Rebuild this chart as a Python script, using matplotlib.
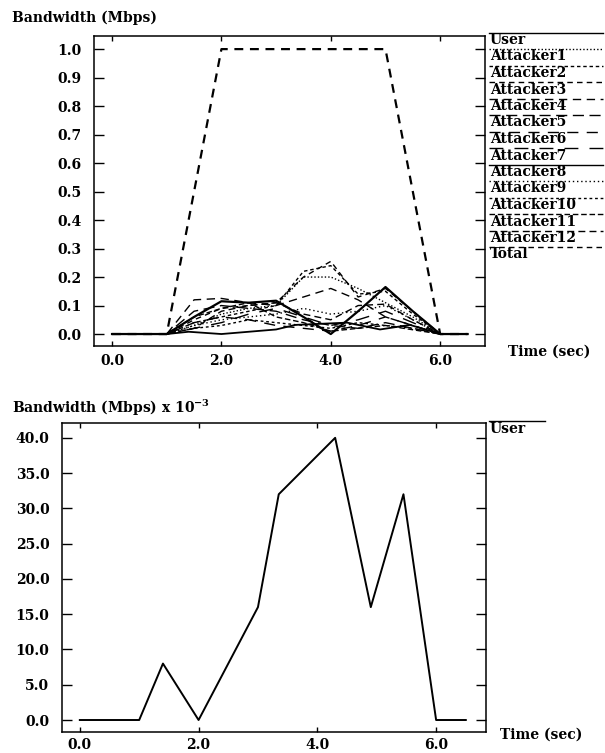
import matplotlib
matplotlib.use("Agg")
import matplotlib.pyplot as plt
from matplotlib.lines import Line2D

# ---------------- data ----------------
time = [0.0, 0.5, 1.0, 1.5, 2.0, 2.5, 3.0, 3.5, 4.0, 4.5, 5.0, 5.5, 6.0, 6.5]

attacker1 = [0, 0, 0, 0.03, 0.07, 0.09, 0.10, 0.20, 0.20, 0.16, 0.11, 0.06, 0, 0]
attacker2 = [0, 0, 0, 0.04, 0.06, 0.08, 0.10, 0.22, 0.24, 0.14, 0.15, 0.07, 0, 0]
attacker3 = [0, 0, 0, 0.05, 0.09, 0.10, 0.11, 0.20, 0.255, 0.13, 0.16, 0.08, 0, 0]
attacker4 = [0, 0, 0, 0.12, 0.125, 0.11, 0.10, 0.13, 0.16, 0.12, 0.06, 0.03, 0, 0]
attacker5 = [0, 0, 0, 0.08, 0.10, 0.09, 0.08, 0.05, 0.03, 0.02, 0.04, 0.02, 0, 0]
attacker6 = [0, 0, 0, 0.04, 0.06, 0.05, 0.03, 0.02, 0.01, 0.03, 0.06, 0.03, 0, 0]
attacker7 = [0, 0, 0, 0.02, 0.04, 0.07, 0.09, 0.06, 0.03, 0.05, 0.08, 0.04, 0, 0]
attacker8 = [0, 0, 0, 0.06, 0.115, 0.11, 0.117, 0.06, 0.0, 0.08, 0.165, 0.08, 0, 0]
attacker9 = [0, 0, 0, 0.03, 0.05, 0.06, 0.07, 0.09, 0.07, 0.08, 0.10, 0.05, 0, 0]
attacker10 = [0, 0, 0, 0.02, 0.03, 0.05, 0.04, 0.03, 0.02, 0.04, 0.03, 0.02, 0, 0]
attacker11 = [0, 0, 0, 0.06, 0.09, 0.11, 0.06, 0.04, 0.01, 0.02, 0.03, 0.015, 0, 0]
attacker12 = [0, 0, 0, 0.02, 0.08, 0.10, 0.11, 0.07, 0.05, 0.10, 0.105, 0.05, 0, 0]
total = [0, 0, 0, 0.5, 1.0, 1.0, 1.0, 1.0, 1.0, 1.0, 1.0, 0.5, 0, 0]

# user flow (sampled at its own times), in Mbps x 10^-3
user_time = [0.0, 1.0, 1.4, 2.0, 3.0, 3.35, 4.3, 4.9, 5.45, 6.0, 6.5]
user_kbps = [0, 0, 8, 0, 16, 32, 40, 16, 32, 0, 0]
user_mbps = [v / 1000.0 for v in user_kbps]

attacker_names = ["Attacker1", "Attacker2", "Attacker3", "Attacker4",
                  "Attacker5", "Attacker6", "Attacker7", "Attacker8",
                  "Attacker9", "Attacker10", "Attacker11", "Attacker12"]
attacker_values = [attacker1, attacker2, attacker3, attacker4, attacker5,
                   attacker6, attacker7, attacker8, attacker9, attacker10,
                   attacker11, attacker12]

top_yticks = [0.0, 0.1, 0.2, 0.3, 0.4, 0.5, 0.6, 0.7, 0.8, 0.9, 1.0]
bot_yticks = [0.0, 5.0, 10.0, 15.0, 20.0, 25.0, 30.0, 35.0, 40.0]
xticks = [0.0, 2.0, 4.0, 6.0]

# ---------------- styles ----------------
user_style = dict(ls="-", lw=1.3)
attacker_styles = [
    dict(ls=(0, (1, 1.5)), lw=1.0),
    dict(ls=(0, (2.5, 2)), lw=1.0),
    dict(ls=(0, (4, 3)), lw=1.0),
    dict(ls=(0, (6, 4)), lw=1.0),
    dict(ls=(0, (8, 4)), lw=1.0),
    dict(ls=(0, (8, 6)), lw=1.0),
    dict(ls=(0, (10, 8)), lw=1.0),
    dict(ls="-", lw=1.6),
    dict(ls=(0, (1, 2)), lw=1.0),
    dict(ls=(0, (2, 2)), lw=1.0),
    dict(ls=(0, (4, 2)), lw=1.0),
    dict(ls=(0, (5, 3)), lw=1.0),
]
total_style = dict(ls=(0, (4, 3)), lw=1.6)

FONT = "DejaVu Serif"
plt.rcParams["font.family"] = FONT
plt.rcParams["font.weight"] = "bold"
plt.rcParams["mathtext.fontset"] = "dejavuserif"
FS = 10

W, H = 605, 753
fig = plt.figure(figsize=(W / 100, H / 100), dpi=100)


def frac_rect(l, r, t, b):
    return [l / W, 1 - b / H, (r - l) / W, (b - t) / H]


def style_axes(ax, xpad):
    ax.tick_params(axis="both", which="both", direction="in", top=True,
                   right=True, labelsize=FS, width=1.0, color="black")
    ax.tick_params(axis="y", length=7, pad=9)
    ax.tick_params(axis="x", length=3.5, pad=xpad)
    for s in ax.spines.values():
        s.set_linewidth(1.1)
    for lab in ax.get_xticklabels() + ax.get_yticklabels():
        lab.set_fontweight("bold")


# ---------------- top chart ----------------
ax1 = fig.add_axes(frac_rect(94, 485, 36, 346))
ax1.plot(user_time, user_mbps, color="black", linestyle=user_style["ls"],
         linewidth=user_style["lw"])
for vals, st in zip(attacker_values, attacker_styles):
    ax1.plot(time, vals, color="black", linestyle=st["ls"], linewidth=st["lw"])
ax1.plot(time, total, color="black", linestyle=total_style["ls"],
         linewidth=total_style["lw"])
ax1.set_xlim(-0.33, 6.82)
ax1.set_ylim(-0.042, 1.046)
ax1.set_xticks(xticks)
ax1.set_xticklabels([f"{v:.1f}" for v in xticks])
ax1.set_yticks(top_yticks)
ax1.set_yticklabels([f"{v:.1f}" for v in top_yticks])
style_axes(ax1, 6)

fig.text(12 / W, 1 - 18 / H, "Bandwidth (Mbps)", fontsize=FS, fontweight="bold",
         va="center", ha="left")
fig.text(508 / W, 1 - 352 / H, "Time (sec)", fontsize=FS, fontweight="bold",
         va="center", ha="left")

# legend (manual, outside right)
legend_names = ["User"] + attacker_names + ["Total"]
legend_styles = [user_style] + attacker_styles + [total_style]
row0, step = 40.0, 16.5
for i, (name, st) in enumerate(zip(legend_names, legend_styles)):
    yc = row0 + i * step
    fig.text(490 / W, 1 - yc / H, name, fontsize=FS, fontweight="bold",
             va="center", ha="left")
    ly = 1 - (yc - 7.5) / H
    fig.add_artist(Line2D([489 / W, 603 / W], [ly, ly], color="black",
                          linestyle=st["ls"], linewidth=1.0,
                          transform=fig.transFigure))

# ---------------- bottom chart ----------------
ax2 = fig.add_axes(frac_rect(62, 486, 423, 732))
ax2.plot(user_time, user_kbps, color="black", linewidth=1.4)
ax2.set_xlim(-0.30, 6.84)
ax2.set_ylim(-1.70, 42.1)
ax2.set_xticks(xticks)
ax2.set_xticklabels([f"{v:.1f}" for v in xticks])
ax2.set_yticks(bot_yticks)
ax2.set_yticklabels([f"{v:.1f}" for v in bot_yticks])
style_axes(ax2, 4)

fig.text(12 / W, 1 - 408 / H, r"Bandwidth (Mbps) x 10$^{\mathbf{-3}}$", fontsize=FS,
         fontweight="bold", va="center", ha="left")
fig.text(500 / W, 1 - 735 / H, "Time (sec)", fontsize=FS, fontweight="bold",
         va="center", ha="left")
fig.text(490 / W, 1 - 429 / H, "User", fontsize=FS, fontweight="bold",
         va="center", ha="left")
ly = 1 - (429 - 7.5) / H
fig.add_artist(Line2D([489 / W, 545 / W], [ly, ly], color="black", linewidth=1.0,
                      transform=fig.transFigure))

fig.savefig("out.png", dpi=100)
